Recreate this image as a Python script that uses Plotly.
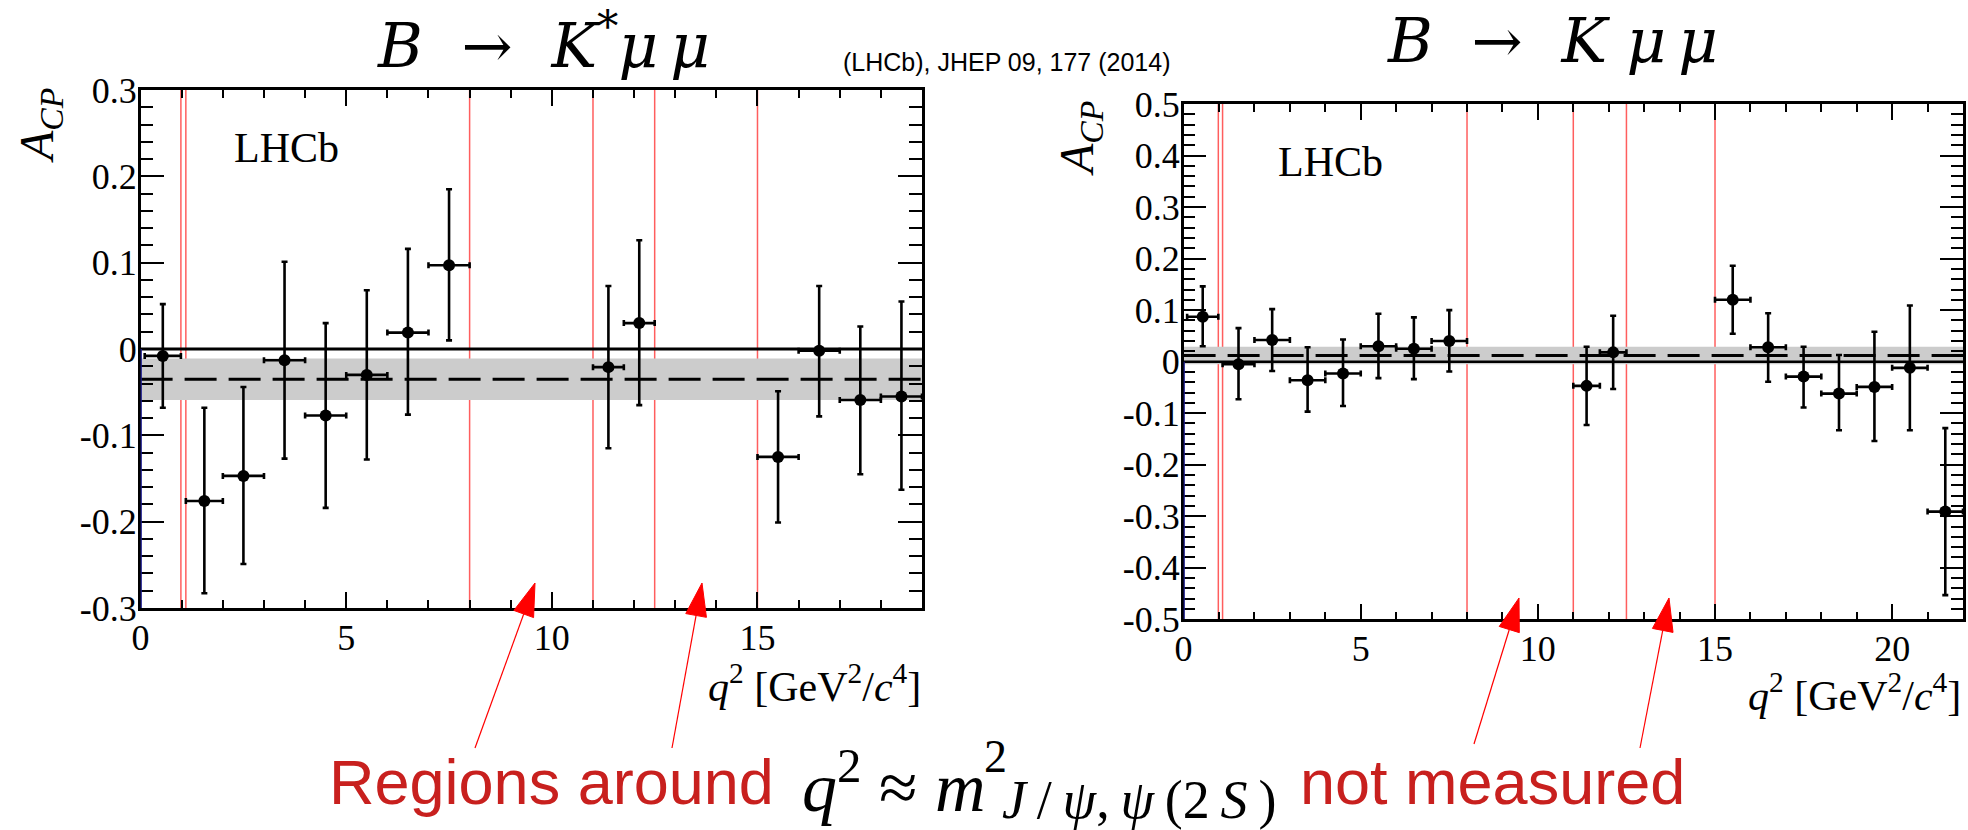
import math
import plotly.graph_objects as go

W, H = 1968, 830

# ---------------- data: B -> K* mu mu (left panel) ----------------
kst_lo = [0.1, 1.1, 2, 3, 4, 5, 6, 7, 11, 11.75, 15, 16, 17, 18]
kst_hi = [0.98, 2, 3, 4, 5, 6, 7, 8, 11.75, 12.5, 16, 17, 18, 19]
kst_acp = [-0.008, -0.176, -0.147, -0.013, -0.077, -0.030, 0.019, 0.097,
           -0.021, 0.030, -0.125, -0.002, -0.059, -0.055]
kst_err_up = [0.060, 0.108, 0.103, 0.114, 0.107, 0.098, 0.097, 0.088,
              0.094, 0.096, 0.076, 0.075, 0.085, 0.110]
kst_err_dn = [0.060, 0.107, 0.102, 0.114, 0.107, 0.098, 0.095, 0.087,
              0.094, 0.095, 0.076, 0.076, 0.086, 0.108]
kst_avg, kst_avg_err = -0.035, 0.024

# ---------------- data: B -> K mu mu (right panel) ----------------
k_lo = [0.1, 1.1, 2, 3, 4, 5, 6, 7, 11, 11.75, 15, 16, 17, 18, 19, 20, 21]
k_hi = [0.98, 2, 3, 4, 5, 6, 7, 8, 11.75, 12.5, 16, 17, 18, 19, 20, 21, 22]
k_acp = [0.087, -0.005, 0.042, -0.036, -0.023, 0.030, 0.025, 0.040,
         -0.047, 0.018, 0.120, 0.028, -0.029, -0.062, -0.049, -0.012, -0.291]
k_err_up = [0.059, 0.070, 0.060, 0.064, 0.066, 0.063, 0.061, 0.060,
            0.076, 0.071, 0.066, 0.066, 0.058, 0.075, 0.107, 0.121, 0.162]
k_err_dn = [0.057, 0.068, 0.060, 0.061, 0.063, 0.062, 0.059, 0.059,
            0.076, 0.071, 0.066, 0.067, 0.060, 0.071, 0.105, 0.121, 0.162]
k_avg, k_avg_err = 0.012, 0.017

# vetoed q2 region boundaries (red lines)
veto_lines = [0.98, 1.1, 8.0, 11.0, 12.5, 15.0]

# tick labels
kst_yticks = [-0.3, -0.2, -0.1, 0, 0.1, 0.2, 0.3]
kst_ylabels = ["-0.3", "-0.2", "-0.1", "0", "0.1", "0.2", "0.3"]
k_yticks = [-0.5, -0.4, -0.3, -0.2, -0.1, 0, 0.1, 0.2, 0.3, 0.4, 0.5]
k_ylabels = ["-0.5", "-0.4", "-0.3", "-0.2", "-0.1", "0", "0.1", "0.2", "0.3", "0.4", "0.5"]
kst_xticks = [0, 5, 10, 15]
kst_xlabels = ["0", "5", "10", "15"]
k_xticks = [0, 5, 10, 15, 20]
k_xlabels = ["0", "5", "10", "15", "20"]

kst_xrange, kst_yrange = [0, 19], [-0.3, 0.3]
k_xrange, k_yrange = [0, 22], [-0.5, 0.5]


def px(x):
    return x / W


def py(y):
    return 1 - y / H


SERIF = "Liberation Serif"
SANS = "Liberation Sans"
RED_TXT = "#c8201e"

fig = go.Figure()


def add_panel(lo, hi, acp, up, dn, xa, ya):
    xc = [(a + b) / 2 for a, b in zip(lo, hi)]
    hw = [(b - a) / 2 for a, b in zip(lo, hi)]
    fig.add_trace(go.Scatter(
        x=xc, y=acp, mode="markers", xaxis=xa, yaxis=ya,
        marker=dict(color="black", size=12),
        error_x=dict(type="data", array=hw, color="black", thickness=2.6, width=3),
        error_y=dict(type="data", symmetric=False, array=up, arrayminus=dn,
                     color="black", thickness=2.6, width=3),
        showlegend=False, cliponaxis=False,
    ))


add_panel(kst_lo, kst_hi, kst_acp, kst_err_up, kst_err_dn, "x", "y")
add_panel(k_lo, k_hi, k_acp, k_err_up, k_err_dn, "x2", "y2")

shapes = []
for (xr, yr, avg, err, xref, yref, zw) in [
    (kst_xrange, kst_yrange, kst_avg, kst_avg_err, "x", "y", 3),
    (k_xrange, k_yrange, k_avg, k_avg_err, "x2", "y2", 2.5),
]:
    shapes.append(dict(type="rect", xref=xref, yref=yref, x0=xr[0], x1=xr[1],
                       y0=avg - err, y1=avg + err, fillcolor="#cccccc",
                       line=dict(width=0), layer="below"))
    shapes.append(dict(type="line", xref=xref, yref=yref, x0=xr[0], x1=xr[1],
                       y0=avg, y1=avg, line=dict(color="black", width=3, dash="32px,12px"),
                       layer="below"))
    shapes.append(dict(type="line", xref=xref, yref=yref, x0=xr[0], x1=xr[1],
                       y0=0, y1=0, line=dict(color="black", width=zw), layer="below"))
    for v in veto_lines:
        shapes.append(dict(type="line", xref=xref, yref=yref + " domain", x0=v, x1=v,
                           y0=0, y1=1, line=dict(color="rgba(255,40,40,0.75)", width=1.5),
                           layer="below"))
    shapes.append(dict(type="line", xref=xref, yref=yref, x0=xr[0], x1=xr[0],
                       y0=yr[0], y1=0, line=dict(color="#1a1a8c", width=2.5), layer="above"))

# arrows (tail px, tip px) pointing to the unmeasured regions
arrows = [((475, 748), (535, 583)), ((672, 748), (702, 583)),
          ((1474, 744), (1519, 598)), ((1640, 748), (1669, 598))]
HEAD_L, HEAD_W = 33, 21
for (tx, ty), (hx, hy) in arrows:
    dx, dy = hx - tx, hy - ty
    L = math.hypot(dx, dy)
    ux, uy = dx / L, dy / L
    nx, ny = -uy, ux
    bx, by = hx - HEAD_L * ux, hy - HEAD_L * uy
    shapes.append(dict(type="line", xref="paper", yref="paper",
                       x0=px(tx), y0=py(ty), x1=px(bx), y1=py(by),
                       line=dict(color="red", width=1.2)))
    p1 = (bx + HEAD_W / 2 * nx, by + HEAD_W / 2 * ny)
    p2 = (bx - HEAD_W / 2 * nx, by - HEAD_W / 2 * ny)
    path = "M {:.5f},{:.5f} L {:.5f},{:.5f} L {:.5f},{:.5f} Z".format(
        px(hx), py(hy), px(p1[0]), py(p1[1]), px(p2[0]), py(p2[1]))
    shapes.append(dict(type="path", xref="paper", yref="paper", path=path,
                       fillcolor="red", line=dict(color="red", width=1)))


def axis(domain, rng, vals, labels, major_len, minor_dtick, minor_len, anchor, standoff):
    return go.layout.XAxis(
        domain=domain, range=rng, anchor=anchor,
        showline=True, linecolor="black", linewidth=2.5, mirror="allticks",
        ticks="inside", ticklen=major_len, tickcolor="black", tickwidth=2,
        showgrid=False, zeroline=False, automargin=False,
        tickmode="array", tickvals=vals, ticktext=labels,
        tickfont=go.layout.xaxis.Tickfont(family=SERIF, size=36, color="black"),
        ticklabelstandoff=standoff,
        minor=dict(ticks="inside", ticklen=minor_len, tickwidth=2, tickcolor="black",
                   dtick=minor_dtick, tick0=0, showgrid=False),
    ).to_plotly_json()


fig.update_layout(
    width=W, height=H, margin=dict(l=0, r=0, t=0, b=0, autoexpand=False),
    paper_bgcolor="white", plot_bgcolor="white", template="none",
    font=dict(family=SERIF, size=36, color="black"),
    xaxis=axis([px(140.6), px(922)], kst_xrange, kst_xticks, kst_xlabels, 16, 1, 8, "y", -4),
    yaxis=axis([py(608), py(90)], kst_yrange, kst_yticks, kst_ylabels, 24, 0.02, 13, "x", -6),
    xaxis2=axis([px(1183.6), px(1963)], k_xrange, k_xticks, k_xlabels, 16, 1, 8, "y2", -4),
    yaxis2=axis([py(619.3), py(104)], k_yrange, k_yticks, k_ylabels, 23, 0.02, 12, "x2", -6),
    shapes=shapes,
)

ann = []


def text(x, y, s, size, family=SERIF, color="black", xanchor="center",
         yanchor="middle", angle=0):
    ann.append(dict(x=px(x), y=py(y), xref="paper", yref="paper", text=s,
                    showarrow=False, xanchor=xanchor, yanchor=yanchor,
                    textangle=angle, font=dict(family=family, size=size, color=color)))


NB = "\u00a0"
TS = "\u2009"
# titles
text(543, 41, "<i>B</i>" + NB * 2 + "→" + NB * 2 + "<i>K</i><sup>*</sup><i>μ" + TS + "μ</i>",
     61, family="DejaVu Serif")
text(1552, 40, "<i>B</i>" + NB * 2 + "→" + NB * 2 + "<i>K</i>" + NB + "<i>μ" + TS + "μ</i>",
     61, family="DejaVu Serif")
text(841, 62, "(LHCb), JHEP 09, 177 (2014)", 25, family=SANS, xanchor="left")

# LHCb labels
text(232, 148, "LHCb", 42, xanchor="left")
text(1276, 162, "LHCb", 42, xanchor="left")

# axis titles
text(40, 126, "<i>A</i><sub><i>CP</i></sub>", 48, angle=-90)
text(1080, 139, "<i>A</i><sub><i>CP</i></sub>", 48, angle=-90)
text(923, 683, "<i>q</i><sup>2</sup> [GeV<sup>2</sup>/<i>c</i><sup>4</sup>]", 42, xanchor="right")
text(1963, 692, "<i>q</i><sup>2</sup> [GeV<sup>2</sup>/<i>c</i><sup>4</sup>]", 42, xanchor="right")

# bottom note
text(776, 782, "Regions around", 63, family=SANS, color=RED_TXT, xanchor="right")
text(800, 782, "<i>q</i><sup>2</sup> ≈ <i>m</i>", 70, xanchor="left")
text(982, 756, "2", 46, xanchor="left")
text(1000, 800, TS.join(["<i>J</i>", "/", "<i>ψ</i>,", "<i>ψ</i>", "(2", "<i>S</i>", ")"]),
     54, xanchor="left")
text(1298, 782, "not measured", 63, family=SANS, color=RED_TXT, xanchor="left")

fig.update_layout(annotations=ann)
fig.write_html("out.html", config={"displayModeBar": False},
               post_script="document.body.style.margin='0px';document.body.style.overflow='hidden';")
